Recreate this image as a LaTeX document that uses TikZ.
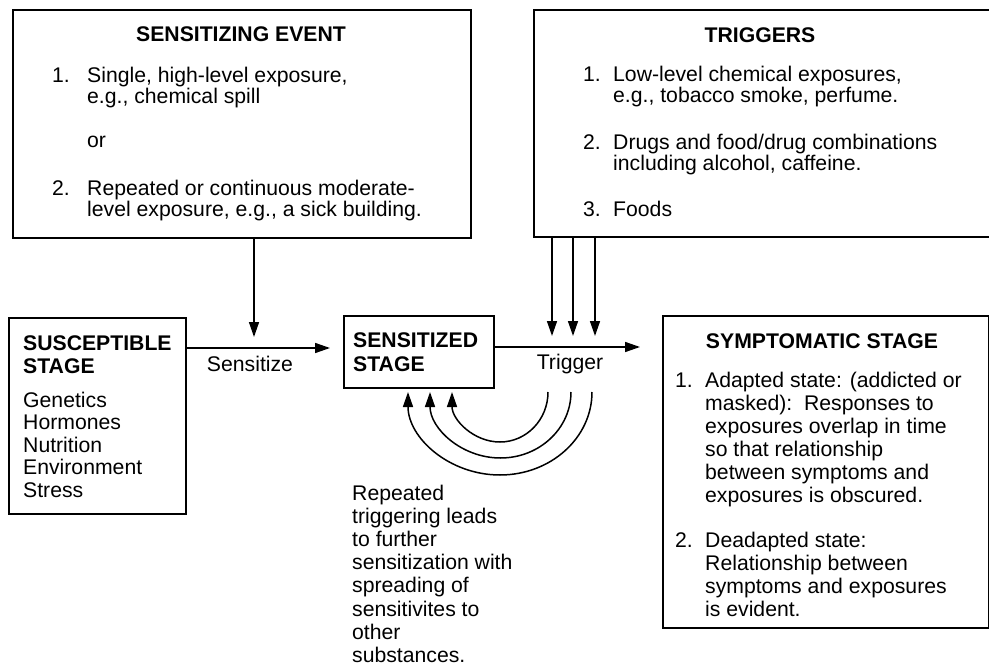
\documentclass[tikz,border=0pt]{standalone}
\usepackage{fontspec}
\setmainfont{Liberation Sans}
\usetikzlibrary{arrows.meta,positioning}

\newcommand\bodyfont{\fontsize{21.2}{23}\selectfont}
\newcommand\headfont{\fontsize{21.2}{23}\selectfont\bfseries}

\tikzset{
  stagebox/.style={draw, line width=1.8pt, inner sep=0pt, anchor=north west},
  headtext/.style={font=\headfont, inner sep=0pt, anchor=base},
  boldline/.style={font=\headfont, inner sep=0pt, anchor=base west},
  listtext/.style={font=\bodyfont, inner sep=0pt, anchor=base west},
  flow/.style={line width=1.5pt, -{Triangle[length=15pt,width=10pt]}}
}

\begin{document}
\begin{tikzpicture}[x=1pt,y=-1pt]
  \useasboundingbox (0,0) rectangle (989,666);

  % the five boxes (triggers runs off the right edge)
  \node[stagebox, minimum width=458pt, minimum height=228pt] (event) at (12,9)   {};
  \node[stagebox, minimum width=470pt, minimum height=227pt] (trig)  at (533,9)  {};
  \node[stagebox, minimum width=177pt, minimum height=196pt] (susc)  at (8,317)  {};
  \node[stagebox, minimum width=150pt, minimum height=72pt]  (sens)  at (343,315) {};
  \node[stagebox, minimum width=326pt, minimum height=312pt] (symp)  at (662,315) {};

  % sensitizing event
  \node[headtext] (event-head) at (241,42) {SENSITIZING EVENT};
  \node[listtext] (event-n1) at (52,83)  {1.};
  \node[listtext] (event-n2) at (52,196) {2.};
  \foreach \y/\txt [count=\i] in {83/{Single, high-level exposure,}, 104/{e.g., chemical spill},
      148/or, 196/{Repeated or continuous moderate-}, 217/{level exposure, e.g., a sick building.}}
    \node[listtext] (event-l\i) at (87,\y) {\txt};

  % triggers
  \node[headtext] (trig-head) at (760,43) {TRIGGERS};
  \foreach \y/\n [count=\i] in {82/1., 150/2., 217/3.}
    \node[listtext] (trig-n\i) at (583,\y) {\n};
  \foreach \y/\txt [count=\i] in {82/{Low-level chemical exposures,}, 103/{e.g., tobacco smoke, perfume.},
      150/{Drugs and food/drug combinations}, 171/{including alcohol, caffeine.}, 217/Foods}
    \node[listtext] (trig-l\i) at (613,\y) {\txt};

  % susceptible stage
  \node[boldline] (susc-h1) at (23,350) {SUSCEPTIBLE};
  \node[boldline] (susc-h2) at (23,373) {STAGE};
  \foreach \txt [count=\i] in {Genetics, Hormones, Nutrition, Environment, Stress}
    \node[listtext] (susc-l\i) at (23,{384.5+22.5*\i}) {\txt};

  % sensitized stage
  \node[boldline] (sens-h1) at (353,347) {SENSITIZED};
  \node[boldline] (sens-h2) at (353,371) {STAGE};

  % symptomatic stage
  \node[headtext] (symp-head) at (822,348) {SYMPTOMATIC STAGE};
  \node[listtext] (symp-n1) at (675,387) {1.};
  \node[listtext] (symp-n2) at (675,547) {2.};
  \foreach \txt [count=\i from 0] in {Adapted state: (addicted or, {masked):\ \ Responses to},
      exposures overlap in time, so that relationship, between symptoms and, exposures is obscured.}
    \node[listtext] (symp-a\i) at (705,{387+23*\i}) {\txt};
  \foreach \txt [count=\i from 0] in {Deadapted state:, Relationship between,
      symptoms and exposures, is evident.}
    \node[listtext] (symp-b\i) at (705,{547+23.3*\i}) {\txt};

  % note under the loops
  \foreach \txt [count=\i from 0] in {Repeated, triggering leads, to further, sensitization with,
      spreading of, sensitivites to, other, substances.}
    \node[listtext] (rep-\i) at (352,{500+23.2*\i}) {\txt};

  % arrows
  \coordinate (sensin) at (254,337);
  \draw[flow] (event.south -| sensin) -- (sensin);
  \coordinate (sensend) at (330,348);
  \draw[flow] (susc.east |- sensend) -- (sensend);
  \node[listtext, anchor=base] (sensitize) at (250,371) {Sensitize};

  \coordinate (trigend) at (640,347);
  \draw[flow] (sens.east |- trigend) -- (trigend);
  \node[listtext, anchor=base] (trigger) at (570,369) {Trigger};

  \foreach \x [count=\i] in {552,573,595} {
    \coordinate (trigin\i) at (\x,336);
    \draw[flow] (trig.south -| trigin\i) -- (trigin\i);
  }

  % feedback loops
  \foreach \x/\rx/\ry [count=\i] in {548/48/50, 571/70.5/66, 592/92/83} {
    \coordinate (loop\i) at (\x,392);
    \draw[flow] (loop\i) arc[start angle=0, end angle=180, x radius=\rx, y radius=\ry];
  }
\end{tikzpicture}
\end{document}
